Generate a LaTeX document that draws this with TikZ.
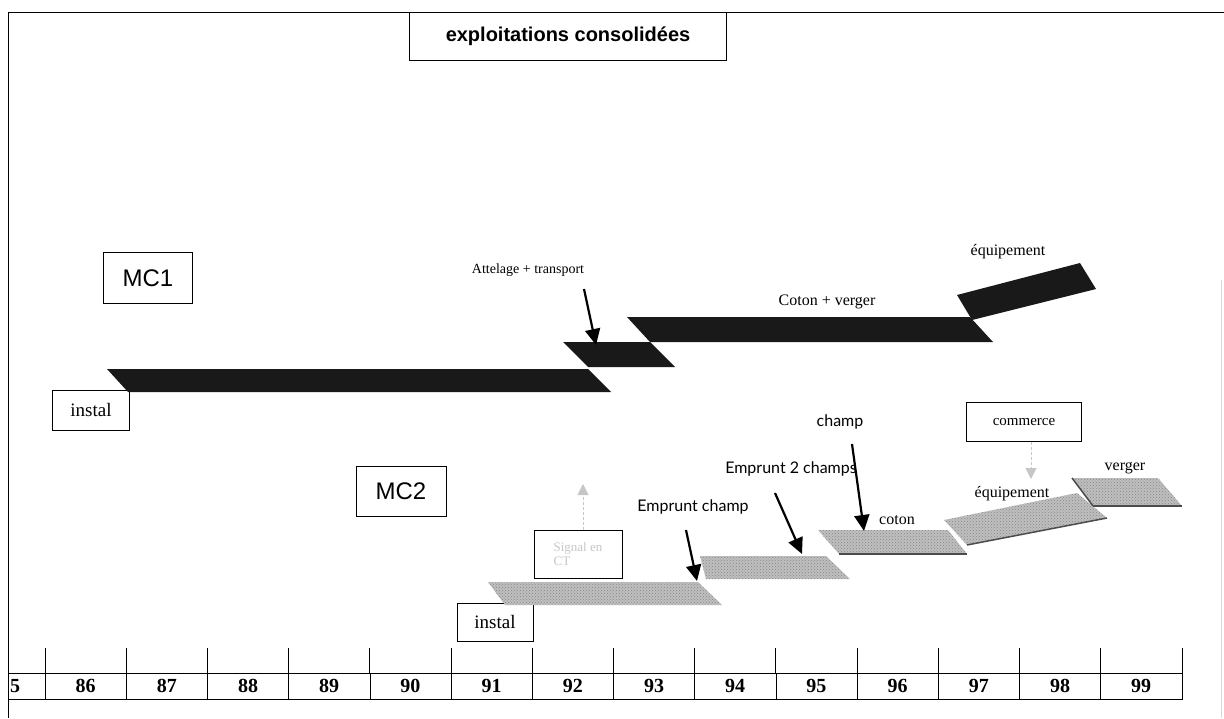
\documentclass[tikz,border=0pt]{standalone}
\usepackage{fontspec}
\setmainfont{Liberation Serif}
\setsansfont{Liberation Sans}
\newfontfamily\handfont{Lato}
\usetikzlibrary{arrows.meta,patterns}

\begin{document}
\begin{tikzpicture}[
    x=1pt, y=-1pt,
    tag/.style={draw, line width=0.9pt, inner sep=2pt},
    lbl/.style={font=\fontsize{16}{17}\selectfont, inner sep=1pt},
    hand/.style={font=\handfont\fontsize{16}{17}\selectfont, inner sep=1pt},
    mcbox/.style={tag, font=\sffamily\fontsize{24}{25}\selectfont},
    blackbar/.style={fill=black!90},
    greybar/.style={preaction={fill=gray!50}, pattern=crosshatch dots, pattern color=gray!95},
    arrow/.style={-{Triangle[length=16pt,width=15pt]}, line width=2.2pt},
    faint/.style={densely dashed, gray!45, line width=1pt, -{Triangle[length=11pt,width=11pt]}},
    cell/.style={draw, minimum width=81.2pt, minimum height=26pt, inner sep=0pt,
                 font=\bfseries\fontsize{20}{21}\selectfont}
  ]
  \useasboundingbox (0,0) rectangle (1224,718);
  % frame
  \draw[line width=0.9pt] (8,718) -- (8,12) -- (1224,12);
  \draw[gray!30] (1221,280) -- (1221,718);
  \node[tag, minimum width=317pt, minimum height=48pt,
        font=\sffamily\bfseries\fontsize{20}{21}\selectfont] (title) at (568,36) {exploitations consolidées};

  % MC1
  \node[mcbox, minimum width=89pt, minimum height=51pt] (mc1) at (148,278) {MC1};
  \node[tag, minimum width=77pt, minimum height=40pt, font=\fontsize{19}{20}\selectfont] (inst1) at (91,410) {instal};
  \fill[blackbar] (107,369) -- (588,369) -- (611,392) -- (128,392) -- cycle;
  \fill[blackbar] (563,342) -- (650,342) -- (675,367) -- (588,367) -- cycle;
  \fill[blackbar] (627,317) -- (970,317) -- (993,342) -- (650,342) -- cycle;
  \fill[blackbar] (957,295) -- (1080,263) -- (1096,289) -- (972,320) -- cycle;
  \node[lbl, font=\fontsize{14}{15}\selectfont] (att) at (528,270) {Attelage + transport};
  \node[lbl] (cotver) at (827,302) {Coton + verger};
  \node[lbl] (equip1) at (1008,252) {équipement};
  \coordinate (att-s) at (584,289);
  \coordinate (att-e) at (596,345);
  \draw[arrow] (att-s) -- (att-e);

  % MC2
  \node[mcbox, minimum width=90pt, minimum height=50pt] (mc2) at (401,491) {MC2};
  \node[tag, minimum width=76pt, minimum height=38pt, font=\fontsize{19}{20}\selectfont] (inst2) at (495,622) {instal};
  \node[tag, minimum width=88pt, minimum height=48pt, align=left, text=gray!45,
        font=\fontsize{13}{14}\selectfont] (signal) at (578,554) {Signal en\\CT};
  \path[greybar] (488,582) -- (698,582) -- (722,605) -- (505,605) -- cycle;
  \path[greybar] (700,556) -- (826,556) -- (850,579) -- (706,579) -- cycle;
  \path[greybar] (818,530) -- (948,530) -- (967,554) -- (839,554) -- cycle;
  \draw[black!70, line width=1.5pt] (839,554) -- (967,554);
  \path[greybar] (944,520) -- (1077,493) -- (1107,518) -- (967,545) -- cycle;
  \draw[black!70, line width=1.5pt] (967,545) -- (1107,518);
  \path[greybar] (1072,478) -- (1158,478) -- (1182,506) -- (1093,506) -- cycle;
  \draw[black!70, line width=1.5pt] (1093,506) -- (1182,506);
  \draw[black!70, line width=1.5pt] (1072,478) -- (1093,506);
  \node[tag, minimum width=115pt, minimum height=39pt, font=\fontsize{15}{16}\selectfont] (comm) at (1024,422) {commerce};
  \node[lbl] (equip2) at (1012,494) {équipement};
  \node[lbl] (verg) at (1125,468) {verger};
  \node[lbl] (coton) at (897,520) {coton};
  \node[hand] (champ) at (840,422) {champ};
  \node[hand] (emp2) at (791,469) {Emprunt 2 champs};
  \node[hand] (emp1) at (693,507) {Emprunt champ};
  \coordinate (sig-up) at (583,484);
  \coordinate (comm-dn) at (1031,479);
  \draw[faint] (signal.north) ++(5,0) -- (sig-up);
  \draw[faint] (comm.south) ++(7,0) -- (comm-dn);
  \coordinate (champ-s) at (852,444);
  \coordinate (champ-e) at (864,531);
  \coordinate (emp2-s) at (775,493);
  \coordinate (emp2-e) at (802,554);
  \coordinate (emp1-s) at (686,530);
  \coordinate (emp1-e) at (697,581);
  \draw[arrow] (champ-s) -- (champ-e);
  \draw[arrow] (emp2-s) -- (emp2-e);
  \draw[arrow] (emp1-s) -- (emp1-e);

  % years
  \draw (8,673) -- (45,673) (8,699) -- (45,699);
  \node[font=\bfseries\fontsize{20}{21}\selectfont, inner sep=0pt] (y85) at (15,686) {5};
  \foreach \yr [count=\i] in {86,...,99} {
    \node[cell] (y\yr) at ({45+81.2*(\i-0.5)},686) {\yr};
    \draw (y\yr.north west) -- ++(0,-25);
  }
  \draw (y99.north east) -- ++(0,-25);
\end{tikzpicture}
\end{document}
